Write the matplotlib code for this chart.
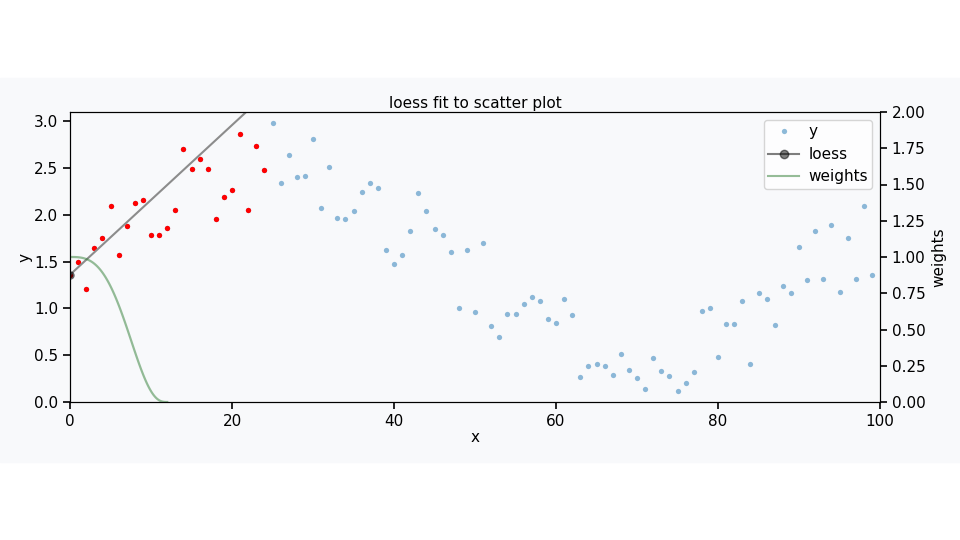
import matplotlib
matplotlib.use("Agg")
import matplotlib.pyplot as plt
import numpy as np
from matplotlib.patches import Rectangle

y = [1.36,1.50,1.21,1.65,1.75,2.09,1.57,1.88,2.13,2.16,1.78,1.79,1.86,2.05,2.70,2.49,2.60,2.49,1.96,2.19,
     2.27,2.86,2.05,2.74,2.48,2.98,2.34,2.64,2.41,2.42,2.81,2.07,2.51,1.97,1.96,2.04,2.24,2.34,2.29,1.62,
     1.47,1.57,1.83,2.23,2.04,1.85,1.79,1.60,1.00,1.63,0.96,1.70,0.81,0.70,0.94,0.94,1.05,1.12,1.08,0.89,
     0.84,1.10,0.93,0.27,0.39,0.41,0.39,0.29,0.51,0.34,0.26,0.14,0.47,0.33,0.28,0.12,0.20,0.32,0.97,1.00,
     0.48,0.83,0.83,1.08,0.41,1.16,1.10,0.82,1.24,1.16,1.66,1.30,1.83,1.31,1.89,1.18,1.75,1.31,2.09,1.36]
x = list(range(len(y)))
span = 24
fit_x0 = 0
fit_intercept = 1.36
fit_slope = 0.08
weight_radius = 12

plt.rcParams["font.size"] = 11
xa = np.array(x); ya = np.array(y)
bg = "#f8f9fb"
fig = plt.figure(figsize=(9.6, 5.4), dpi=100, facecolor="white")
fig.patches.append(Rectangle((0, 78/540), 1, 384/540, transform=fig.transFigure, color=bg, zorder=-10))
ax = fig.add_axes([70/960, 1-402/540, 810/960, 290/540])
ax.set_facecolor(bg)
ax.plot(xa, ya, "o", ms=3.8, color="#1f77b4", alpha=0.5, mec="none", label="y")
sel = xa <= span
ax.plot(xa[sel], ya[sel], "o", ms=3.8, color="red", mec="none")
lx = np.linspace(fit_x0, 30, 50)
ax.plot(lx, fit_intercept + fit_slope*(lx-fit_x0), "-", color="#8c8c8c", lw=1.5)
ax.plot([fit_x0], [fit_intercept], "o", color="black", alpha=0.6, ms=6, mec="none")
ax.plot([], [], "-o", color="black", alpha=0.5, label="loess")
ax.plot([], [], "-", color="#2e7d32", alpha=0.5, label="weights")
ax.set_xlim(0, 100); ax.set_ylim(0, 3.1)
ax.set_yticks([0,0.5,1.0,1.5,2.0,2.5,3.0])
ax.set_xlabel("x", labelpad=1); ax.set_ylabel("y", labelpad=1)
ax.set_title("loess fit to scatter plot", fontsize=11, pad=3)
ax.legend(loc="upper right", fontsize=11, borderpad=0.3, handletextpad=0.6)
ax2 = ax.twinx()
wx = np.linspace(0, weight_radius, 100)
ax2.plot(wx, (1-(wx/weight_radius)**3)**3, color="#2e7d32", alpha=0.5, lw=1.6)
ax2.set_ylim(0, 2.0)
ax2.set_yticks(np.arange(0, 2.01, 0.25))
ax2.set_ylabel("weights")
for a in (ax, ax2):
    a.tick_params(direction="out", length=5, width=1.2)
fig.savefig("out.png", facecolor="white")
